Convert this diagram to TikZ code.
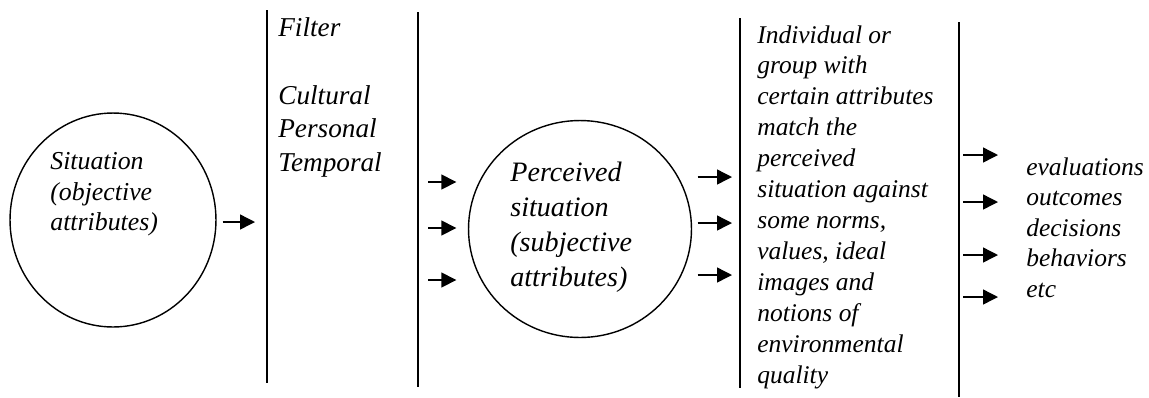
\documentclass[tikz,border=0pt]{standalone}
\usepackage{fontspec}
\setmainfont{Liberation Serif}
\usetikzlibrary{
	shapes.geometric,
	arrows.meta,
	positioning,
	calc
}

\begin{document}
\begin{tikzpicture}[x=0.02cm, y=-0.02cm,
				circ/.style={
					ellipse, draw, line width=0.8pt, inner sep=0pt
				},
				txt/.style={
					anchor=north west, align=left, inner sep=0pt,
					font=\fontsize{14.5}{17.6}\selectfont\itshape
				},
				bigtxt/.style={
					txt, font=\fontsize{16}{19.9}\selectfont\itshape
				},
				bar/.style={line width=0.8pt},
				arrow/.style={-{Triangle[length=0.3cm, width=0.3cm]}, line width=0.8pt},
				]
				\useasboundingbox (0,0) rectangle (1149,397);
				
				%first set
				\node[circ, minimum width=4.12cm, minimum height=4.28cm] (sit) at (113,220) {};
				\node[txt, font=\fontsize{14.7}{17.4}\selectfont\itshape] (sittext) at (50,152) {Situation\\(objective\\attributes)};
				
				%filter
				\coordinate (l1t) at (267,10);
				\coordinate (l1b) at (267,383);
				\draw[bar] (l1t) -- (l1b);
				\draw[arrow] ([xshift=0.12cm]sit.east |- 0,222) -- ([xshift=-0.24cm]l1t |- 0,222);
				\node[txt, font=\fontsize{15.5}{19.3}\selectfont\itshape] (filter) at (278,17) {Filter\\[19.3pt]Cultural\\Personal\\Temporal};
				
				\coordinate (l2t) at (418,12);
				\coordinate (l2b) at (418,387);
				\draw[bar] (l2t) -- (l2b);
				
				%2. set
				\node[circ, minimum width=4.46cm, minimum height=4.34cm] (perc) at (580,229) {};
				\node[bigtxt] (perctext) at (510,162) {Perceived\\situation\\(subjective\\attributes)};
				\foreach \y in {182,228,280}
					\draw[arrow] ([xshift=0.2cm]l2t |- 0,\y) -- ([xshift=-0.23cm]perc.west |- 0,\y);
				
				%3. set
				\coordinate (l3t) at (740,18);
				\coordinate (l3b) at (740,388);
				\draw[bar] (l3t) -- (l3b);
				\foreach \y in {177,223,275}
					\draw[arrow] ([xshift=0.11cm]perc.east |- 0,\y) -- ([xshift=-0.16cm]l3t |- 0,\y);
				\node[txt] (match) at (757,25) {Individual or\\group with\\certain attributes\\match the\\perceived\\situation against\\some norms,\\values, ideal\\images and\\notions of\\environmental\\quality};
				
				%4. set
				\coordinate (l4t) at (959,22);
				\coordinate (l4b) at (959,397);
				\draw[bar] (l4t) -- (l4b);
				\foreach \y in {155,202,255,297}
					\draw[arrow] ([xshift=0.08cm]l4t |- 0,\y) -- ([xshift=0.78cm]l4t |- 0,\y);
				\node[txt, font=\fontsize{14.5}{17.4}\selectfont\itshape] (out) at (1026,157) {evaluations\\outcomes\\decisions\\behaviors\\etc};
			\end{tikzpicture}
\end{document}
